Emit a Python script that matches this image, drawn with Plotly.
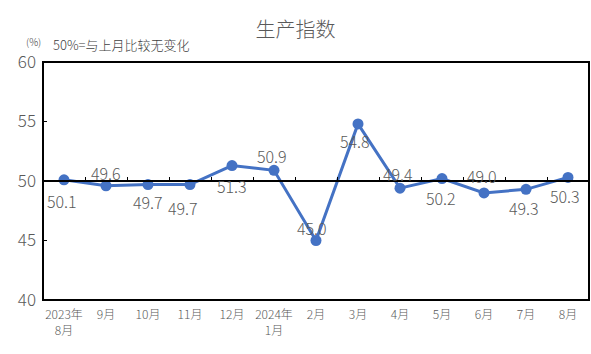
import plotly.graph_objects as go

categories = ["2023年<br>8月", "9月", "10月", "11月", "12月", "2024年<br>1月", "2月",
              "3月", "4月", "5月", "6月", "7月", "8月"]
values = [50.1, 49.6, 49.7, 49.7, 51.3, 50.9, 45.0, 54.8, 49.4, 50.2, 49.0, 49.3, 50.3]
labels = ["50.1", "49.6", "49.7", "49.7", "51.3", "50.9", "45.0", "54.8", "49.4", "50.2", "49.0", "49.3", "50.3"]
y_ticks = [40, 45, 50, 55, 60]

# label offsets (pixels): (xshift, yshift)
label_offsets = [(-2, -21), (0, 13), (0, -17), (-7, -23), (0, -20), (-2, 14), (-4, 13),
                 (-3, -17), (-2, 14), (-1, -19), (-2, 17), (-2, -19), (-3, -19)]

FONT = "Noto Sans CJK SC"
GRAY = "#595959"

fig = go.Figure()
fig.add_trace(go.Scatter(
    x=categories, y=values, mode="lines+markers",
    line=dict(color="#4472C4", width=3),
    marker=dict(color="#4472C4", size=11),
    hoverinfo="skip", showlegend=False,
))
# invisible trace to carry the mid-line axis
fig.add_trace(go.Scatter(x=categories, y=values, xaxis="x2", mode="markers",
                         marker=dict(opacity=0), hoverinfo="skip", showlegend=False))

for c, v, t, (dx, dy) in zip(categories, values, labels, label_offsets):
    fig.add_annotation(x=c, y=v, text=t, showarrow=False, xshift=dx, yshift=dy,
                       font=dict(family=FONT, size=16, color=GRAY, weight=300))

fig.update_layout(
    width=591, height=354,
    margin=dict(l=43, r=2, t=62, b=54),
    paper_bgcolor="white", plot_bgcolor="white",
    font=dict(family=FONT, color=GRAY),
    title=dict(text="生产指数", x=0.5, xanchor="center", y=0.915, yanchor="middle",
               font=dict(family=FONT, size=20, color=GRAY, weight=300)),
    xaxis=dict(type="category", showgrid=False, showline=False, ticks="",
               tickfont=dict(family=FONT, size=12, color=GRAY, weight=300), ticklabelstandoff=6,
               range=[-0.5, len(categories) - 0.5]),
    xaxis2=dict(type="category", overlaying="x", matches="x", anchor="free", position=0.5,
                side="bottom", showgrid=False, showline=True, linecolor="black", linewidth=2,
                ticks="inside", tickson="boundaries", ticklen=3, tickcolor="black",
                showticklabels=False),
    yaxis=dict(range=[40, 60], tickvals=y_ticks, showgrid=False, zeroline=False,
               showline=False, ticks="inside", ticklen=4, tickcolor="black", tickwidth=1,
               tickfont=dict(family=FONT, size=17, color=GRAY, weight=300), ticklabelstandoff=6),
    shapes=[dict(type="rect", xref="paper", yref="paper", x0=0, x1=1, y0=0, y1=1,
                 line=dict(color="black", width=2), layer="above")],
)
fig.add_annotation(xref="paper", yref="paper", x=-0.018, y=1.045, xanchor="center", yanchor="bottom",
                   text="(%)", showarrow=False, font=dict(family=FONT, size=10, color="#404040", weight=300))
fig.add_annotation(xref="paper", yref="paper", x=0.015, y=1.025, xanchor="left", yanchor="bottom",
                   text="50%=与上月比较无变化", showarrow=False,
                   font=dict(family=FONT, size=13, color="#404040", weight=300))

fig.write_html("out.html")
